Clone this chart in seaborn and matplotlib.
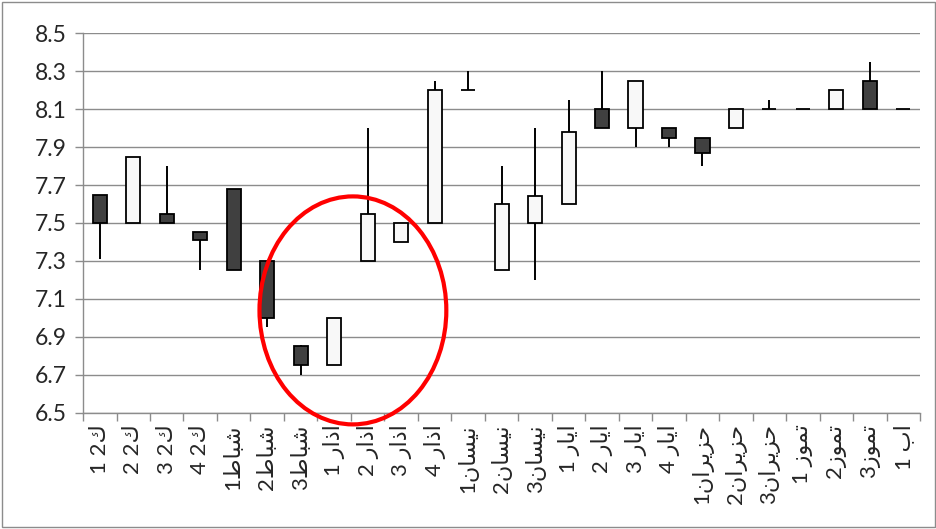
import seaborn as sns
import numpy as np
import matplotlib.pyplot as plt
from matplotlib.patches import Ellipse, Rectangle

# weekly labels (logical Arabic order)
labels = ["ك2 1", "ك2 2", "ك2 3", "ك2 4", "شباط1", "شباط2", "شباط3",
          "اذار 1", "اذار 2", "اذار 3", "اذار 4", "نيسان1", "نيسان2", "نيسان3",
          "ايار 1", "ايار 2", "ايار 3", "ايار 4", "حزيران1", "حزيران2", "حزيران3",
          "تموز 1", "تموز2", "تموز3", "اب 1"]

open_ = [7.65, 7.50, 7.55, 7.45, 7.68, 7.30, 6.85, 6.75, 7.30, 7.40, 7.50, 8.20, 7.25,
         7.50, 7.60, 8.10, 8.00, 8.00, 7.95, 8.00, 8.10, 8.10, 8.10, 8.25, 8.10]
close = [7.50, 7.85, 7.50, 7.41, 7.25, 7.00, 6.75, 7.00, 7.55, 7.50, 8.20, 8.20, 7.60,
         7.64, 7.98, 8.00, 8.25, 7.95, 7.87, 8.10, 8.10, 8.10, 8.20, 8.10, 8.10]
high = [7.65, 7.85, 7.80, 7.45, 7.68, 7.30, 6.86, 7.00, 8.00, 7.50, 8.25, 8.30, 7.80,
        8.00, 8.15, 8.30, 8.25, 8.00, 7.95, 8.10, 8.15, 8.10, 8.20, 8.35, 8.10]
low = [7.31, 7.50, 7.50, 7.25, 7.25, 6.95, 6.70, 6.75, 7.30, 7.40, 7.50, 8.20, 7.25,
       7.20, 7.60, 8.00, 7.90, 7.90, 7.80, 8.00, 8.10, 8.10, 8.10, 8.10, 8.10]

yticks = [6.5, 6.7, 6.9, 7.1, 7.3, 7.5, 7.7, 7.9, 8.1, 8.3, 8.5]

# minimal arabic shaping: (isolated, final, initial, medial)
FORMS = {
    'ا': ('\uFE8D', '\uFE8E', None, None),
    'ب': ('\uFE8F', '\uFE90', '\uFE91', '\uFE92'),
    'ت': ('\uFE95', '\uFE96', '\uFE97', '\uFE98'),
    'ح': ('\uFEA1', '\uFEA2', '\uFEA3', '\uFEA4'),
    'ذ': ('\uFEAB', '\uFEAC', None, None),
    'ر': ('\uFEAD', '\uFEAE', None, None),
    'ز': ('\uFEAF', '\uFEB0', None, None),
    'س': ('\uFEB1', '\uFEB2', '\uFEB3', '\uFEB4'),
    'ش': ('\uFEB5', '\uFEB6', '\uFEB7', '\uFEB8'),
    'ط': ('\uFEC1', '\uFEC2', '\uFEC3', '\uFEC4'),
    'ك': ('\uFED9', '\uFEDA', '\uFEDB', '\uFEDC'),
    'م': ('\uFEE1', '\uFEE2', '\uFEE3', '\uFEE4'),
    'ن': ('\uFEE5', '\uFEE6', '\uFEE7', '\uFEE8'),
    'و': ('\uFEED', '\uFEEE', None, None),
    'ي': ('\uFEF1', '\uFEF2', '\uFEF3', '\uFEF4'),
}


def visual(text):
    out = []
    for i, ch in enumerate(text):
        if ch not in FORMS:
            out.append(ch)
            continue
        prev = text[i - 1] if i > 0 else ''
        nxt = text[i + 1] if i + 1 < len(text) else ''
        jp = prev in FORMS and FORMS[prev][2] is not None
        jn = nxt in FORMS and FORMS[ch][2] is not None
        iso, fin, ini, med = FORMS[ch]
        if jp and jn:
            out.append(med)
        elif jp:
            out.append(fin)
        elif jn:
            out.append(ini)
        else:
            out.append(iso)
    return ''.join(reversed(out))


sns.set_style("white")
plt.rcParams['font.family'] = ['Lato', 'DejaVu Sans']

fig = plt.figure(figsize=(9.37, 5.29), dpi=100)
ax = fig.add_axes([0.0886, 0.2193, 0.8934, 0.7183])

x = np.arange(len(labels))
o = np.array(open_)
c = np.array(close)
bottom = np.minimum(o, c)
height = np.abs(c - o)
colors = ['#404040' if cc < oo else '#f8f8f8' for oo, cc in zip(o, c)]

ax.vlines(x, low, high, color='black', linewidth=1.4, zorder=2)
ax.bar(x, height, bottom=bottom, width=0.42, color=colors,
       edgecolor='black', linewidth=1.3, zorder=3)

ax.set_xlim(-0.5, len(labels) - 0.5)
ax.set_ylim(6.5, 8.5)
ax.set_yticks(yticks)
ax.set_yticklabels([f"{v:.1f}" for v in yticks])
ax.set_xticks(x)
ax.set_xticklabels([visual(t) for t in labels], rotation=90, va='top')
ax.set_xticks(np.arange(-0.5, len(labels)), minor=True)

ax.yaxis.grid(True, color='#8c8c8c', linewidth=1.0)
ax.xaxis.grid(False)
for s in ['top', 'right']:
    ax.spines[s].set_visible(False)
for s in ['left', 'bottom']:
    ax.spines[s].set_color('#8c8c8c')
    ax.spines[s].set_linewidth(1.0)

ax.tick_params(axis='y', which='major', length=6, color='#8c8c8c', width=1.0,
               pad=6, labelsize=16.5, left=True)
ax.tick_params(axis='x', which='major', length=0, pad=8, labelsize=16)
ax.tick_params(axis='x', which='minor', length=6, color='#8c8c8c', width=1.0,
               bottom=True)

# red highlight around the February/March dip
ax.add_patch(Ellipse((7.56, 7.04), 5.58, 1.2, fill=False, edgecolor='#ff0000',
                     linewidth=3, clip_on=False, zorder=5))

fig.add_artist(Rectangle((0.002, 0.003), 0.996, 0.993, transform=fig.transFigure,
                         fill=False, edgecolor='#8c8c8c', linewidth=1.0))

fig.savefig("out.png", dpi=100)
